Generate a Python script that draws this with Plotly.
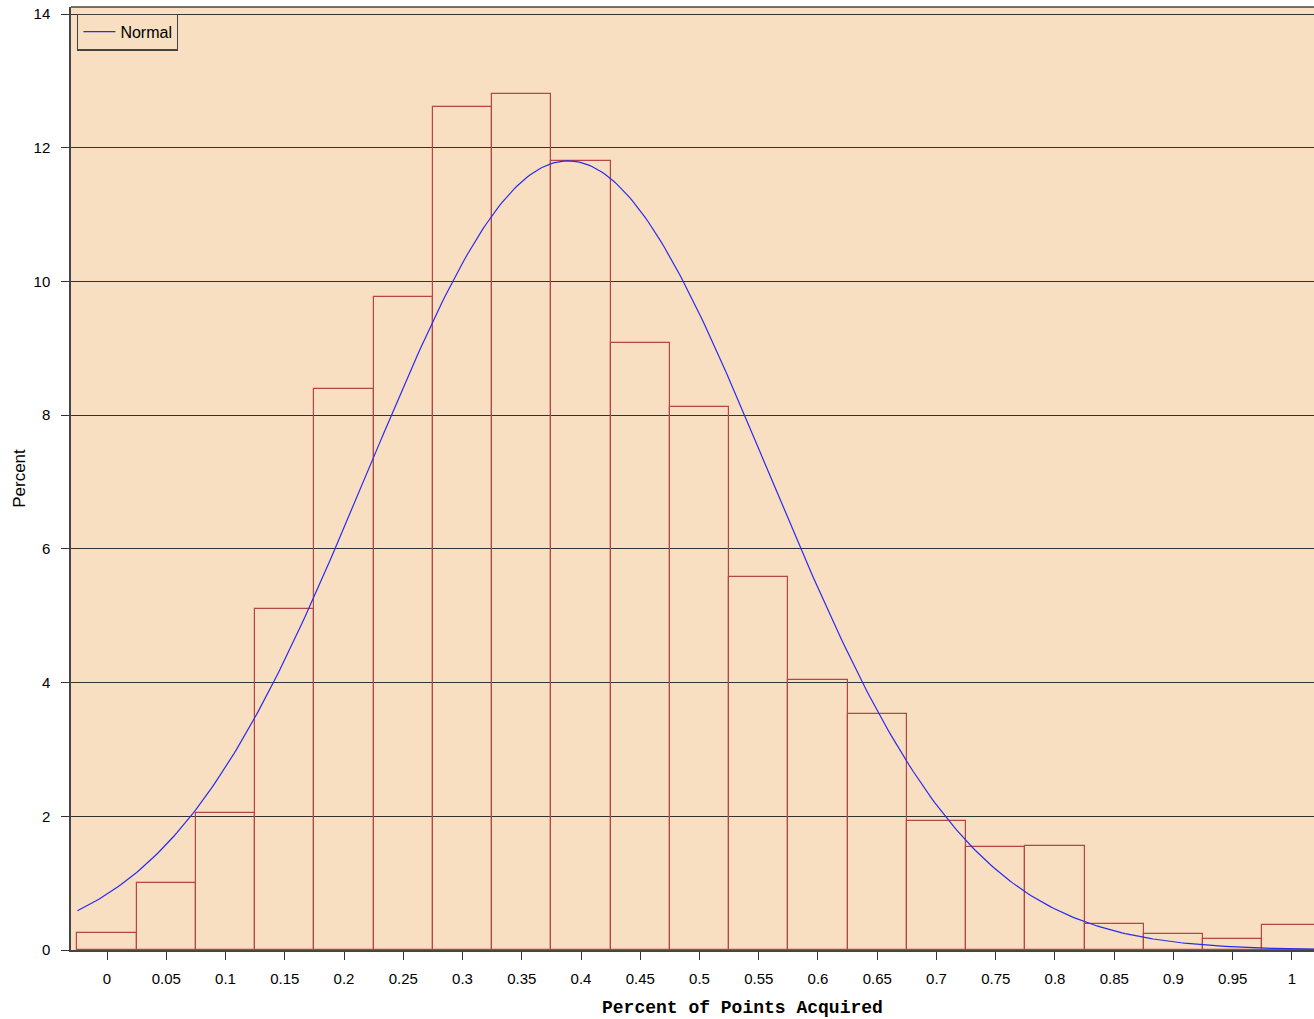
import numpy as np
import plotly.graph_objects as go

# Histogram bins (midpoints) and percents
bin_mids = [0.0, 0.05, 0.1, 0.15, 0.2, 0.25, 0.3, 0.35, 0.4, 0.45, 0.5,
            0.55, 0.6, 0.65, 0.7, 0.75, 0.8, 0.85, 0.9, 0.95, 1.0]
percents = [0.25, 1.00, 2.05, 5.10, 8.39, 9.77, 12.61, 12.80, 11.80, 9.08, 8.12,
            5.58, 4.04, 3.53, 1.93, 1.54, 1.56, 0.39, 0.235, 0.17, 0.37]
bin_width = 0.05

# Fitted normal parameters
mu = 0.389
sigma = 0.169

x_ticks = [0, 0.05, 0.1, 0.15, 0.2, 0.25, 0.3, 0.35, 0.4, 0.45, 0.5,
           0.55, 0.6, 0.65, 0.7, 0.75, 0.8, 0.85, 0.9, 0.95, 1]
x_tick_text = ["0", "0.05", "0.1", "0.15", "0.2", "0.25", "0.3", "0.35", "0.4", "0.45", "0.5",
               "0.55", "0.6", "0.65", "0.7", "0.75", "0.8", "0.85", "0.9", "0.95", "1"]
y_ticks = [0, 2, 4, 6, 8, 10, 12, 14]

xc = np.linspace(-0.025, 1.025, 400)
yc = 100 * bin_width / (sigma * np.sqrt(2 * np.pi)) * np.exp(-0.5 * ((xc - mu) / sigma) ** 2)

fig = go.Figure()
fig.add_trace(go.Bar(
    x=bin_mids, y=percents, width=bin_width,
    marker=dict(color="rgba(0,0,0,0)", line=dict(color="#B44646", width=1.2)),
    showlegend=False, hoverinfo="x+y",
))
fig.add_trace(go.Scatter(
    x=xc, y=yc, mode="lines", name="Normal",
    line=dict(color="#2B2BF0", width=1.2),
))

fig.update_layout(
    width=1314, height=1019,
    margin=dict(l=71, r=0, t=7, b=69),
    paper_bgcolor="white",
    plot_bgcolor="#F8DFC1",
    font=dict(family="Liberation Sans, Arial, sans-serif", size=15, color="black"),
    bargap=0,
    showlegend=True,
    legend=dict(
        x=0.005, y=0.993, xanchor="left", yanchor="top",
        bgcolor="#F8DFC1", bordercolor="#444444", borderwidth=1.2,
        font=dict(family="Liberation Sans, Arial, sans-serif", size=16),
        itemwidth=32,
    ),
)
fig.update_xaxes(
    range=[-0.0304, 1.0186],
    tickvals=x_ticks, ticktext=x_tick_text,
    ticks="outside", ticklen=8, tickcolor="#333333",
    ticklabelstandoff=6,
    showline=True, linecolor="#444444", linewidth=1.5, mirror=False,
    showgrid=False, zeroline=False,
)
fig.update_yaxes(
    range=[0, 14.105],
    tickvals=y_ticks,
    ticks="outside", ticklen=8, tickcolor="#333333",
    ticklabelstandoff=8,
    showline=True, linecolor="#444444", linewidth=1.5,
    showgrid=True, gridcolor="#333333", gridwidth=1,
    zeroline=False,
    title=dict(text="Percent", font=dict(size=17), standoff=4),
)
# x axis title (centred as in the original, which is offset to the right)
fig.add_annotation(
    text="<b>Percent of Points Acquired</b>", xref="paper", yref="paper",
    x=0.5406, y=-0.0615, xanchor="center", yanchor="middle", showarrow=False,
    font=dict(family="Liberation Mono, DejaVu Sans Mono, monospace", size=18),
)
# top frame line
fig.add_shape(type="line", xref="paper", yref="paper", x0=0, x1=1, y0=1, y1=1,
              line=dict(color="#444444", width=1.5))

fig.write_html("out.html", config={"displayModeBar": False},
               post_script="document.body.style.margin='0';document.body.style.padding='0';")
